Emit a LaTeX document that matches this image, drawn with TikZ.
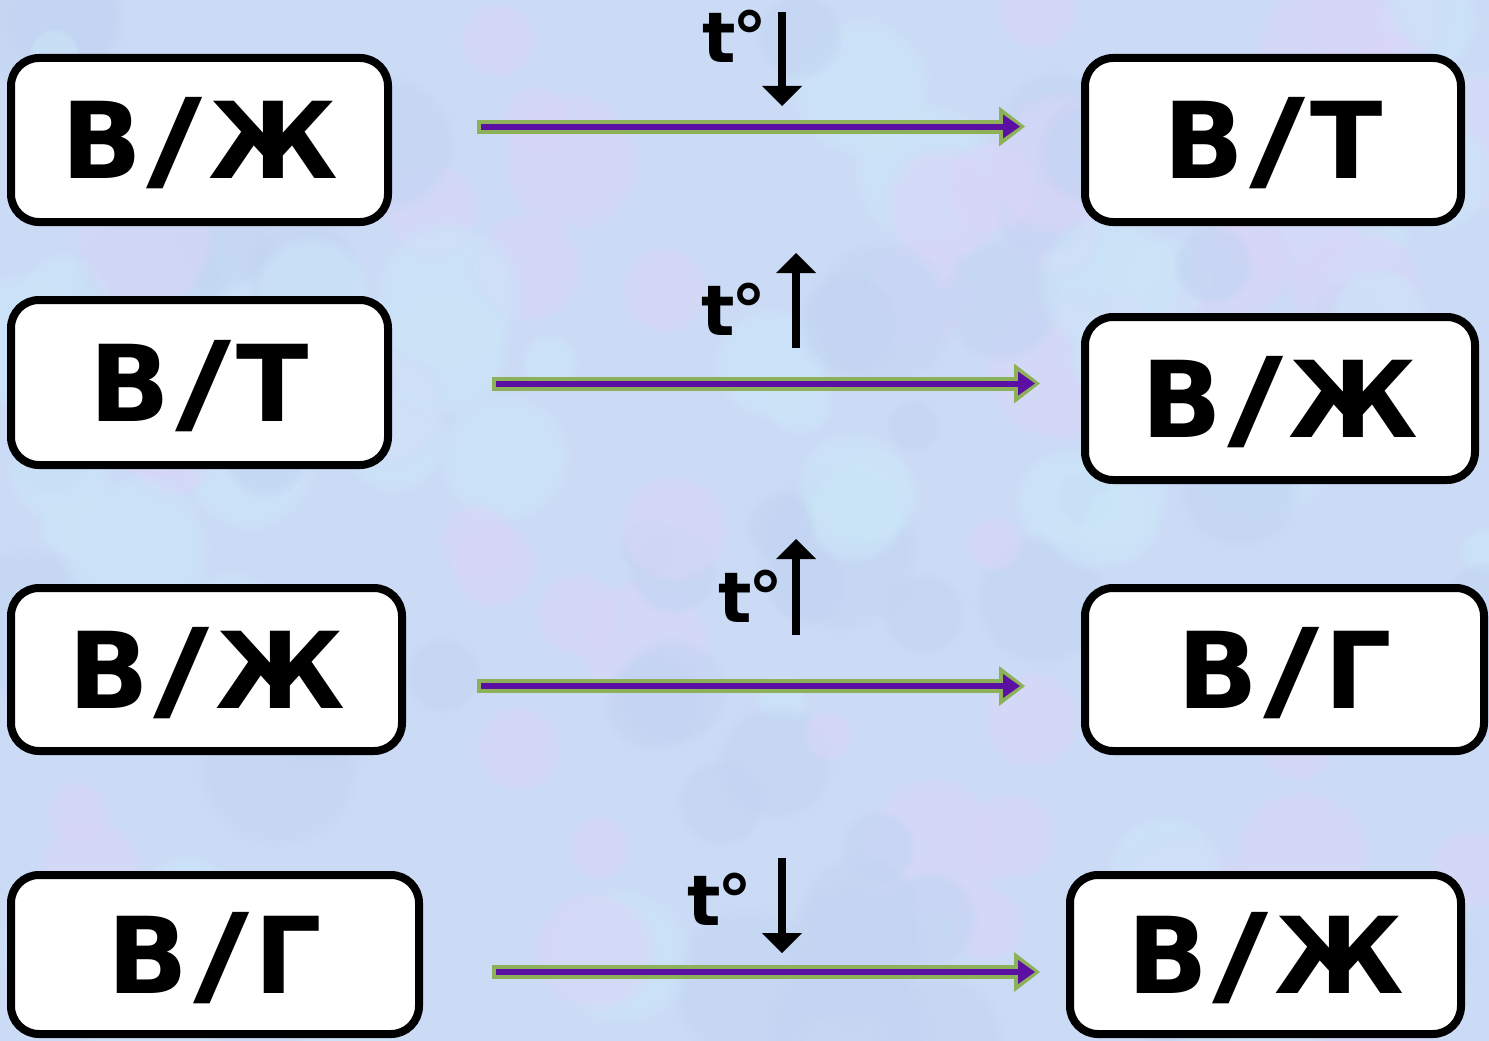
\documentclass[tikz,border=0pt]{standalone}
\usepackage{graphicx}
\usepackage{fontspec}
\setmainfont{DejaVu Sans}
\usetikzlibrary{calc,fadings}
\definecolor{bgbase}{HTML}{CBDBF6}
\definecolor{blobA}{HTML}{DAD6F8}
\definecolor{blobB}{HTML}{CBE6F8}
\definecolor{blobC}{HTML}{C2D4F2}
\definecolor{arrgreen}{HTML}{8DB158}
\definecolor{arrpurple}{HTML}{5C0FA3}
\newcommand\headtri[5]{% tip, tail, length, half width, colour
  \fill[#5] ($($#1!#3!#2$)!#4!90:#1$) -- #1 -- ($($#1!#3!#2$)!#4!-90:#1$) -- cycle;}
\newcommand\reactarrow[2]{% start, end
  \draw[greenshaft] (#1) -- ($(#2)!25pt!(#1)$);
  \headtri{(#2)}{(#1)}{26pt}{20pt}{arrgreen}
  \coordinate (ptip) at ($(#2)!5pt!(#1)$);
  \draw[purpleshaft] ($(#1)!4pt!(#2)$) -- ($(#2)!21pt!(#1)$);
  \headtri{(ptip)}{(#1)}{17pt}{12pt}{arrpurple}}
\newcommand\temparrow[2]{% tail, tip
  \draw[tline] (#1) -- ($(#2)!19pt!(#1)$);
  \headtri{(#2)}{(#1)}{20pt}{20pt}{black}}
\newcommand\sep{\hspace{5pt}\scalebox{1.45}[1.05]{/}\hspace{5pt}}
\newcommand\tdeg{t\kern-4pt°}
\tikzset{
  box/.style={draw=black, line width=8pt, fill=white, rounded corners=28pt,
    inner sep=0pt, font=\fontsize{106}{110}\selectfont\bfseries,
    text height=77pt, text depth=0pt},
  tlabel/.style={font=\fontsize{70}{80}\selectfont\bfseries, inner sep=0pt, anchor=base},
  greenshaft/.style={draw=arrgreen, line width=14pt},
  purpleshaft/.style={draw=arrpurple, line width=6pt},
  tline/.style={draw=black, line width=8pt},
}
\begin{document}
\begin{tikzpicture}[x=1pt,y=-1pt]
\useasboundingbox (0,0) rectangle (1489,1041);
\clip (0,0) rectangle (1489,1041);
\fill[bgbase] (0,0) rectangle (1489,1041);
\pgfmathsetseed{21}
\foreach \i in {1,...,170}{
  \pgfmathsetmacro\bx{rnd*1489}
  \pgfmathsetmacro\by{rnd*1041}
  \pgfmathsetmacro\br{25+rnd*60}
  \pgfmathtruncatemacro\bc{mod(\i,3)}
  \ifcase\bc \def\bcol{blobA}\or \def\bcol{blobB}\or \def\bcol{blobC}\fi
  \fill[\bcol, path fading=circle with fuzzy edge 20 percent, fill opacity=0.55] (\bx,\by) circle[radius=\br pt];
}
% boxes
\node[box, minimum width=377pt, minimum height=164pt] (L1) at (199.5,140) {В\sep Ж};
\node[box, minimum width=376pt, minimum height=164pt] (R1) at (1273,140) {В\sep Т};
\node[box, minimum width=377pt, minimum height=165pt] (L2) at (199.5,382.5) {В\sep Т};
\node[box, minimum width=390pt, minimum height=163pt] (R2) at (1280,398.5) {В\sep Ж};
\node[box, minimum width=391pt, minimum height=163pt] (L3) at (206.5,669.5) {В\sep Ж};
\node[box, minimum width=399pt, minimum height=163pt] (R3) at (1284.5,669.5) {В\sep Г};
\node[box, minimum width=408pt, minimum height=159pt] (L4) at (215,954.5) {В\sep Г};
\node[box, minimum width=391pt, minimum height=159pt] (R4) at (1265.5,954.5) {В\sep Ж};
% reaction arrows
\coordinate (s1) at (477,126.5); \coordinate (e1) at (1025,126.5);
\coordinate (s2) at (492,383.5); \coordinate (e2) at (1040,383.5);
\coordinate (s3) at (477,686);   \coordinate (e3) at (1025,686);
\coordinate (s4) at (492,972);   \coordinate (e4) at (1040,972);
\reactarrow{s1}{e1}
\reactarrow{s2}{e2}
\reactarrow{s3}{e3}
\reactarrow{s4}{e4}
% temperature labels
\node[tlabel] (t1) at (735,63) {\tdeg};
\node[tlabel] (t2) at (734,335) {\tdeg};
\node[tlabel] (t3) at (751,622) {\tdeg};
\node[tlabel] (t4) at (720,925) {\tdeg};
\coordinate (a1) at (782,12);  \coordinate (b1) at (782,106);
\coordinate (a2) at (796,348); \coordinate (b2) at (796,253);
\coordinate (a3) at (796,635); \coordinate (b3) at (796,539);
\coordinate (a4) at (782,858); \coordinate (b4) at (782,953);
\temparrow{a1}{b1}
\temparrow{a2}{b2}
\temparrow{a3}{b3}
\temparrow{a4}{b4}
\end{tikzpicture}
\end{document}
